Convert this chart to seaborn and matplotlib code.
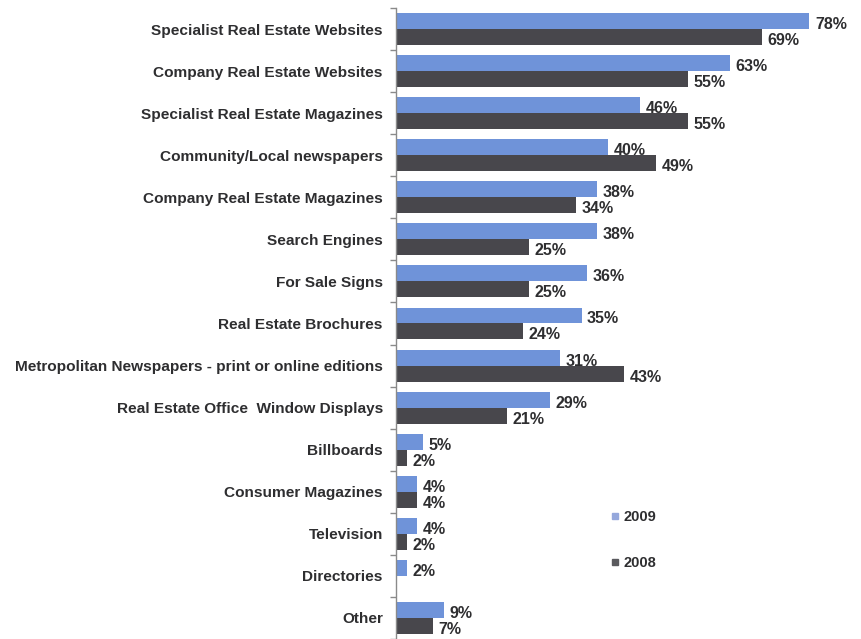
import matplotlib
matplotlib.use("Agg")
import matplotlib.pyplot as plt
from matplotlib.lines import Line2D
import numpy as np
import pandas as pd
import seaborn as sns

categories = [
    "Specialist Real Estate Websites",
    "Company Real Estate Websites",
    "Specialist Real Estate Magazines",
    "Community/Local newspapers",
    "Company Real Estate Magazines",
    "Search Engines",
    "For Sale Signs",
    "Real Estate Brochures",
    "Metropolitan Newspapers - print or online editions",
    "Real Estate Office  Window Displays",
    "Billboards",
    "Consumer Magazines",
    "Television",
    "Directories",
    "Other",
]
values_2009 = [78, 63, 46, 40, 38, 38, 36, 35, 31, 29, 5, 4, 4, 2, 9]
values_2008 = [69, 55, 55, 49, 34, 25, 25, 24, 43, 21, 2, 4, 2, 0.2, 7]
years = ["2009", "2008"]

BLUE = "#6f93d9"
DARK = "#48474c"
TEXT = "#2e2e30"

df = pd.DataFrame({
    "category": categories * 2,
    "value": values_2009 + values_2008,
    "year": [years[0]] * len(categories) + [years[1]] * len(categories),
})

sns.set_theme(style="white")
plt.rcParams["font.family"] = ["Liberation Sans", "DejaVu Sans"]

W, H = 861, 639
fig = plt.figure(figsize=(W / 100, H / 100), dpi=100)
ax_left, ax_top = 396, 8
ax = fig.add_axes([ax_left / W, 0, (W - ax_left) / W, (H - ax_top) / H])

sns.barplot(
    data=df, y="category", x="value", hue="year", hue_order=years,
    order=categories, orient="h", palette=[BLUE, DARK], width=0.76,
    saturation=1, linewidth=0, legend=False, ax=ax,
)

px_per_pct = 5.3
ax.set_xlim(0, (W - ax_left) / px_per_pct)
pitch = 42.2
ax.set_ylim(-0.5 + (H - ax_top) / pitch, -0.5)

# value labels next to each bar
for cont, vals in zip(ax.containers, [values_2009, values_2008]):
    labels = [f"{v:.0f}%" if v >= 1 else "" for v in vals]
    anns = ax.bar_label(cont, labels=labels, padding=4, fontsize=11.5,
                        fontweight="bold", color=TEXT)
    for a in anns:
        a.xyann = (4, -2.5)

# axes styling
for side in ["top", "right", "bottom"]:
    ax.spines[side].set_visible(False)
ax.spines["left"].set_color("#8a8a8a")
ax.spines["left"].set_linewidth(1.0)
ax.set_xticks([])
ax.set_xlabel("")
ax.set_ylabel("")
ax.set_yticks(range(len(categories)))
ax.set_yticklabels(categories, fontsize=11.1, fontweight="bold", color=TEXT)
ax.set_yticks(np.arange(-0.5, len(categories), 1.0), minor=True)
ax.tick_params(axis="y", which="major", length=0, pad=9.5)
ax.tick_params(axis="y", which="minor", length=4, width=1, color="#8a8a8a", left=True)

handles = [
    Line2D([], [], marker="s", ls="", color="#95a8dc", markersize=5),
    Line2D([], [], marker="s", ls="", color="#5a5a5e", markersize=5),
]
fig.legend(handles, years, loc="center left", frameon=False,
           bbox_to_anchor=(597 / W, 1 - 540 / H), handlelength=0.6,
           handletextpad=0.3, labelspacing=2.2,
           prop={"size": 10.5, "weight": "bold"}, labelcolor=TEXT)

fig.savefig("out.png", dpi=100, facecolor="white")
